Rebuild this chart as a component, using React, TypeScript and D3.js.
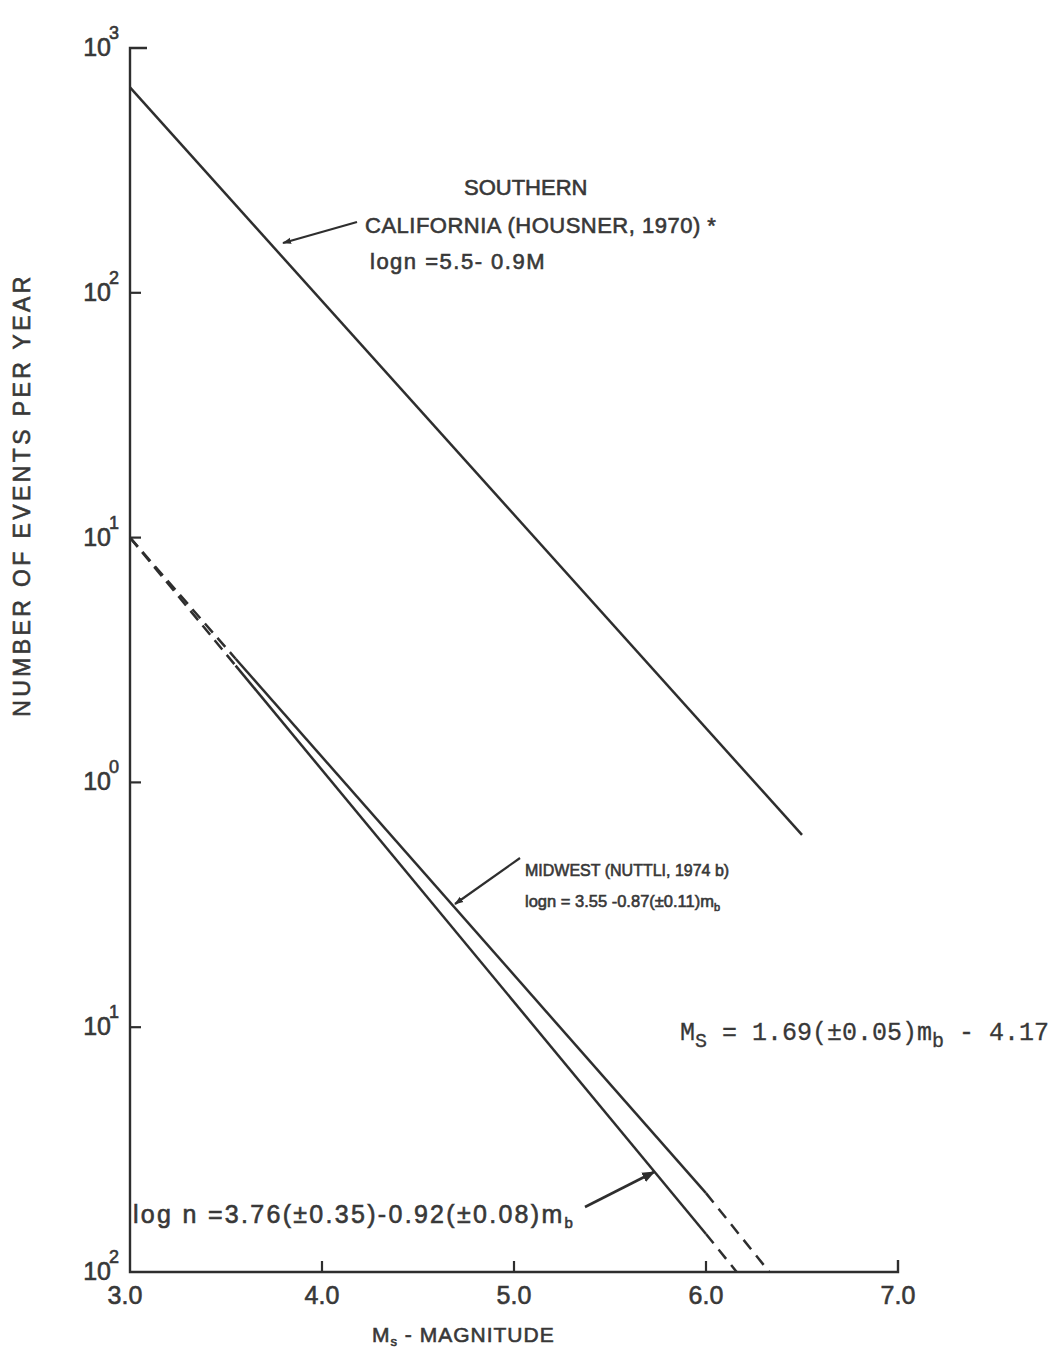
import React from "react";
import * as d3 from "d3";

// ---- data ----
const xTicks = [3, 4, 5, 6, 7];
const xTickLabels = ["3.0", "4.0", "5.0", "6.0", "7.0"];
const yTicks = [1000, 100, 10, 1, 0.1, 0.01];
const yTickExponents = ["3", "2", "1", "0", "1", "2"];

// Southern California (Housner, 1970)
const socalMag = [3.0, 6.5];
const socalN = [690, 0.61];

// Midwest (Nuttli, 1974b): segments dashed / solid / dashed
const midwestMag = [3.0, 3.55, 6.0, 6.33];
const midwestN = [10, 3.2, 0.021, 0.01];

// log n = 3.76 - 0.92 mb
const lowerMag = [3.0, 3.55, 6.0, 6.16];
const lowerN = [10, 3.0, 0.0143, 0.01];

const W = 1063;
const H = 1349;
const INK = "#2e2e2e";
const TXT = "#383838";
const SANS = "'Liberation Sans', Arial, sans-serif";
const MONO = "'Liberation Mono', 'DejaVu Sans Mono', monospace";

export default function App() {
  const x = d3.scaleLinear().domain([3, 7]).range([130, 898]);
  const y = d3.scaleLog().domain([0.01, 1000]).range([1272, 48]);
  const line = d3
    .line<[number, number]>()
    .x((d) => x(d[0]))
    .y((d) => y(d[1]));

  const pts = (m: number[], n: number[]) => m.map((v, i) => [v, n[i]] as [number, number]);
  const segs = (m: number[], n: number[]) => {
    const p = pts(m, n);
    return [p.slice(0, 2), p.slice(1, 3), p.slice(2, 4)];
  };
  const mw = segs(midwestMag, midwestN);
  const lw = segs(lowerMag, lowerN);

  const x0 = x(3);
  const yBase = y(0.01);

  const textStyle = { stroke: TXT, strokeWidth: 0.6 } as const;

  return (
    <svg width={W} height={H} style={{ position: "absolute", left: 0, top: 0, background: "#fff" }}>
      <defs>
        <marker id="ah" viewBox="0 0 10 10" refX="9" refY="5" markerWidth="9" markerHeight="9" orient="auto" markerUnits="userSpaceOnUse">
          <path d="M0,1.5 L10,5 L0,8.5 z" fill={INK} />
        </marker>
        <marker id="ahBig" viewBox="0 0 10 10" refX="9" refY="5" markerWidth="13" markerHeight="13" orient="auto" markerUnits="userSpaceOnUse">
          <path d="M0,1 L10,5 L0,9 z" fill={INK} />
        </marker>
      </defs>
      <rect width={W} height={H} fill="#fff" />

      {/* axes */}
      <path
        d={`M${x0 + 17},${y(1000)} H${x0} V${yBase} H${x(7)} V${yBase - 12}`}
        fill="none"
        stroke={INK}
        strokeWidth={2.4}
      />
      {yTicks.slice(1, 5).map((t) => (
        <line key={"yt" + t} x1={x0} x2={x0 + 11} y1={y(t)} y2={y(t)} stroke={INK} strokeWidth={2.2} />
      ))}
      {xTicks.slice(1, 4).map((t) => (
        <line key={"xt" + t} x1={x(t)} x2={x(t)} y1={yBase} y2={yBase - 11} stroke={INK} strokeWidth={2.2} />
      ))}

      {/* y tick labels */}
      {yTicks.map((t, i) => (
        <text key={"yl" + t} x={119} y={y(t) + 8} textAnchor="end" fontFamily={SANS} fontSize={25} fill={TXT} {...textStyle}>
          10
          <tspan dx={-2} dy={-17} fontSize={18}>
            {yTickExponents[i]}
          </tspan>
        </text>
      ))}

      {/* x tick labels */}
      {xTicks.map((t, i) => (
        <text key={"xl" + t} x={x(t) + (i === 0 ? -5 : 0)} y={1304} textAnchor="middle" fontFamily={SANS} fontSize={25} fill={TXT} {...textStyle}>
          {xTickLabels[i]}
        </text>
      ))}

      {/* axis titles */}
      <text x={372} y={1342} fontFamily={SANS} fontSize={21} fill={TXT} letterSpacing={1} {...textStyle}>
        M<tspan dy={4} fontSize={13}>s</tspan>
        <tspan dy={-4}> - MAGNITUDE</tspan>
      </text>
      <text
        transform={`translate(30,495) rotate(-90)`}
        textAnchor="middle"
        fontFamily={SANS}
        fontSize={23}
        fill={TXT}
        letterSpacing={3.4}
        {...textStyle}
      >
        NUMBER OF EVENTS PER YEAR
      </text>

      {/* data lines */}
      <path d={line(pts(socalMag, socalN)) || ""} fill="none" stroke={INK} strokeWidth={2.5} />
      {[mw, lw].map((s, k) => (
        <g key={"l" + k} fill="none" stroke={INK} strokeWidth={2.5}>
          <path d={line(s[0]) || ""} strokeDasharray="12 7" />
          <path d={line(s[1]) || ""} />
          <path d={line(s[2]) || ""} strokeDasharray="12 8" />
        </g>
      ))}

      {/* annotation arrows */}
      <line x1={357} y1={222} x2={283} y2={243} stroke={INK} strokeWidth={2.2} markerEnd="url(#ah)" />
      <line x1={520} y1={858} x2={455} y2={904} stroke={INK} strokeWidth={2.2} markerEnd="url(#ah)" />
      <line x1={585} y1={1207} x2={654} y2={1172} stroke={INK} strokeWidth={2.6} markerEnd="url(#ahBig)" />

      <g fontFamily={SANS} fill={TXT} {...textStyle}>
        <text x={464} y={195} fontSize={22}>SOUTHERN</text>
        <text x={365} y={233} fontSize={22} letterSpacing={0.5}>CALIFORNIA (HOUSNER, 1970) *</text>
        <text x={370} y={269} fontSize={22} letterSpacing={1.5}>logn =5.5- 0.9M</text>

        <text x={525} y={876} fontSize={16}>MIDWEST (NUTTLI, 1974 b)</text>
        <text x={525} y={907} fontSize={16.5}>
          logn = 3.55 -0.87(±0.11)m<tspan dy={4} fontSize={11}>b</tspan>
        </text>

        <text x={133} y={1223} fontSize={25} letterSpacing={2.3}>
          log n =3.76(±0.35)-0.92(±0.08)m<tspan dy={5} fontSize={15}>b</tspan>
        </text>
      </g>
      <text x={680} y={1040} fontFamily={MONO} fontSize={25} fill={TXT} stroke={TXT} strokeWidth={0.3}>
        M<tspan dy={7} fontSize={20}>S</tspan>
        <tspan dy={-7}> = 1.69(±0.05)m</tspan>
        <tspan dy={7} fontSize={20}>b</tspan>
        <tspan dy={-7}> - 4.17</tspan>
      </text>
    </svg>
  );
}
